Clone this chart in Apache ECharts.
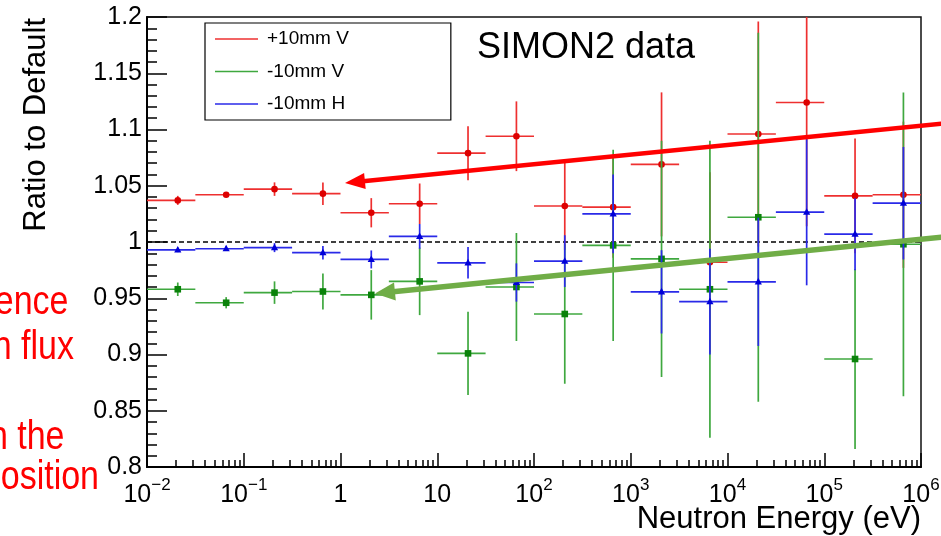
<!DOCTYPE html>
<html><head><meta charset="utf-8">
<script src="https://cdn.jsdelivr.net/npm/echarts@6/dist/echarts.min.js"></script>
<style>html,body{margin:0;padding:0;background:#fff}#c{width:941px;height:536px}</style>
</head><body><div id="c"></div>
<script>
// ---- data ----
const seriesNames = ['+10mm V', '-10mm V', '-10mm H'];
const energy  = [0.0208, 0.0658, 0.208, 0.658, 2.08, 6.58, 20.8, 65.8, 208, 658, 2081, 6581, 20811, 65811, 208114, 658114];
const binLow  = [0.01, 0.0316, 0.1, 0.316, 1, 3.16, 10, 31.6, 100, 316, 1000, 3162, 10000, 31623, 100000, 316228];
const binHigh = [0.0316, 0.1, 0.316, 1, 3.16, 10, 31.6, 100, 316, 1000, 3162, 10000, 31623, 100000, 316228, 1000000];
const redVal   = [1.037, 1.042, 1.047, 1.043, 1.026, 1.034, 1.079, 1.094, 1.032, 1.031, 1.069, 0.982, 1.096, 1.124, 1.041, 1.042];
const redErr   = [0.004, 0.002, 0.006, 0.010, 0.013, 0.018, 0.024, 0.031, 0.039, 0.045, 0.064, 0.080, 0.100, 0.110, 0.051, 0.065];
const greenVal = [0.958, 0.946, 0.955, 0.956, 0.953, 0.965, 0.901, 0.960, 0.936, 0.997, 0.985, 0.958, 1.022, null, 0.896, 0.998];
const greenErr = [0.006, 0.005, 0.010, 0.016, 0.022, 0.030, 0.037, 0.048, 0.062, 0.085, 0.105, 0.132, 0.164, null, 0.080, 0.135];
const blueVal  = [0.993, 0.994, 0.995, 0.9905, 0.9845, 1.005, 0.9815, 0.964, 0.983, 1.025, 0.9557, 0.947, 0.9646, 1.0265, 1.007, 1.0345];
const blueErr  = [0.002, 0.002, 0.004, 0.006, 0.008, 0.011, 0.014, 0.017, 0.023, 0.035, 0.037, 0.047, 0.057, 0.065, 0.032, 0.050];
const xMajorTicks = [0.01, 0.1, 1, 10, 100, 1000, 10000, 100000, 1000000];
const xTickLabels = ['10|\u22122', '10|\u22121', '1', '10', '10|2', '10|3', '10|4', '10|5', '10|6'];
const yRange = [0.8, 1.2];
const refLevel = 1;
const titleText = 'SIMON2 data';
const xTitle = 'Neutron Energy (eV)';
const yTitle = 'Ratio to Default';
const noteLines = ['ence', 'n flux', 'n the', 'osition'];

// ---- styling ----
const FONT = '"Liberation Sans", Arial, Helvetica, sans-serif';
const colors = {
  red:   {line: '#ee3030', mark: '#dd0000'},
  green: {line: '#3fa83f', mark: '#0a820a'},
  blue:  {line: '#2a2ae8', mark: '#0000d8'}
};

const xMinorTicks = [];
for (let i = 0; i < xMajorTicks.length - 1; i++) {
  for (let k = 2; k <= 9; k++) xMinorTicks.push(+(xMajorTicks[i] * k).toPrecision(6));
}

function rows(vals, errs) {
  const out = [];
  for (let i = 0; i < energy.length; i++) {
    if (vals[i] == null) continue;
    out.push([energy[i], vals[i], binLow[i], binHigh[i], errs[i]]);
  }
  return out;
}

function makeRender(col, shape) {
  return function (params, api) {
    const x = api.value(0), y = api.value(1), lo = api.value(2), hi = api.value(3), e = api.value(4);
    const c = api.coord([x, y]);
    const l = api.coord([lo, y]);
    const h = api.coord([hi, y]);
    const t = api.coord([x, y + e]);
    const b = api.coord([x, y - e]);
    const ls = {stroke: col.line, lineWidth: 1.7};
    const children = [
      {type: 'line', shape: {x1: l[0], y1: c[1], x2: h[0], y2: c[1]}, style: ls},
      {type: 'line', shape: {x1: c[0], y1: t[1], x2: c[0], y2: b[1]}, style: ls}
    ];
    if (shape === 'circle') {
      children.push({type: 'circle', shape: {cx: c[0], cy: c[1], r: 3.3}, style: {fill: col.mark}});
    } else if (shape === 'square') {
      children.push({type: 'rect', shape: {x: c[0] - 3.3, y: c[1] - 3.3, width: 6.6, height: 6.6}, style: {fill: col.mark}});
    } else {
      children.push({type: 'polygon', shape: {points: [[c[0], c[1] - 4], [c[0] - 3.6, c[1] + 2.6], [c[0] + 3.6, c[1] + 2.6]]}, style: {fill: col.mark}});
    }
    return {type: 'group', children: children};
  };
}

function arrow(tail, tip, color, w, hl, hw) {
  const dx = tip[0] - tail[0], dy = tip[1] - tail[1], L = Math.hypot(dx, dy);
  const ux = dx / L, uy = dy / L, px = -uy, py = ux;
  const bx = tip[0] - ux * hl, by = tip[1] - uy * hl;
  return [
    {type: 'line', z: 100, shape: {x1: tail[0], y1: tail[1], x2: bx + ux * 2, y2: by + uy * 2}, style: {stroke: color, lineWidth: w}},
    {type: 'polygon', z: 100, shape: {points: [tip, [bx + px * hw, by + py * hw], [bx - px * hw, by - py * hw]]}, style: {fill: color}}
  ];
}

const chart = echarts.init(document.getElementById('c'), null, {renderer: 'canvas'});

const xLabelFormatter = function (v) {
  const i = xMajorTicks.findIndex(t => Math.abs(Math.log10(t) - Math.log10(v)) < 1e-6);
  if (i < 0) return '';
  const parts = xTickLabels[i].split('|');
  return parts[1] ? '{b|' + parts[0] + '}{s|' + parts[1] + '}' : '{b|' + parts[0] + '}';
};

const noteX = [68.5, 74, 64.5, 99];
const noteBase = [317, 362, 452, 492];
const noteGraphics = noteLines.map((t, i) => ({
  type: 'text', z: 100, x: noteX[i], y: noteBase[i], scaleY: 1.22,
  style: {text: t, x: 0, y: -11.8, align: 'right', verticalAlign: 'middle', fill: '#ff0000', fontSize: 34, fontFamily: FONT}
}));

const option = {
  animation: false,
  backgroundColor: '#ffffff',
  textStyle: {fontFamily: FONT},
  grid: {left: 147, right: 20, top: 17, bottom: 69, containLabel: false, outerBoundsMode: 'none', show: true, borderColor: '#111', borderWidth: 1.5, backgroundColor: 'transparent'},
  legend: {
    orient: 'vertical', left: 205, top: 23,
    data: [
      {name: seriesNames[0], icon: 'rect', itemStyle: {color: colors.red.line}},
      {name: seriesNames[1], icon: 'rect', itemStyle: {color: colors.green.line}},
      {name: seriesNames[2], icon: 'rect', itemStyle: {color: colors.blue.line}}
    ],
    itemWidth: 43, itemHeight: 1.6, itemGap: 13.5,
    padding: [6.5, 102, 6.5, 10],
    borderColor: '#000', borderWidth: 1.2, backgroundColor: '#fff',
    selectedMode: false,
    textStyle: {fontSize: 19, lineHeight: 19, color: '#000', fontFamily: FONT, padding: [0, 0, 0, 4]}
  },
  xAxis: [
    {
      type: 'log', logBase: 10, min: xMajorTicks[0], max: xMajorTicks[xMajorTicks.length - 1], splitNumber: 8,
      position: 'bottom',
      axisLine: {show: true, onZero: false, lineStyle: {color: '#000', width: 2}},
      axisTick: {show: true, inside: true, length: 14, customValues: xMajorTicks, lineStyle: {color: '#000', width: 1.5}},
      axisLabel: {
        show: true, customValues: xMajorTicks, margin: 8, formatter: xLabelFormatter, color: '#000',
        rich: {
          b: {fontSize: 25, lineHeight: 33, verticalAlign: 'bottom', fontFamily: FONT, color: '#000'},
          s: {fontSize: 17, verticalAlign: 'bottom', padding: [0, 0, 14, 0], fontFamily: FONT, color: '#000'}
        }
      },
      splitLine: {show: false}
    },
    {
      type: 'log', logBase: 10, min: xMajorTicks[0], max: xMajorTicks[xMajorTicks.length - 1],
      position: 'bottom',
      axisLine: {show: false},
      axisTick: {show: true, inside: true, length: 7, customValues: xMinorTicks, lineStyle: {color: '#000', width: 1.5}},
      axisLabel: {show: false},
      splitLine: {show: false}
    }
  ],
  yAxis: {
    type: 'value', min: yRange[0], max: yRange[1], interval: 0.05,
    axisLine: {show: true, lineStyle: {color: '#000', width: 2}},
    axisTick: {show: true, inside: true, length: 20, lineStyle: {color: '#000', width: 1.5}},
    minorTick: {show: true, splitNumber: 5, length: 10, lineStyle: {color: '#000', width: 1.5}},
    axisLabel: {fontSize: 25, color: '#000', margin: 5, fontFamily: FONT, formatter: v => String(Math.round(v * 100) / 100)},
    splitLine: {show: false}
  },
  series: [
    {
      type: 'line', silent: true, symbol: 'none', z: 1,
      data: [[xMajorTicks[0], refLevel], [xMajorTicks[xMajorTicks.length - 1], refLevel]],
      lineStyle: {color: '#000', width: 1.3, type: [5, 3]}
    },
    {name: seriesNames[0], type: 'custom', clip: true, renderItem: makeRender(colors.red, 'circle'), data: rows(redVal, redErr), encode: {x: 0, y: 1}, z: 3},
    {name: seriesNames[1], type: 'custom', clip: true, renderItem: makeRender(colors.green, 'square'), data: rows(greenVal, greenErr), encode: {x: 0, y: 1}, z: 4},
    {name: seriesNames[2], type: 'custom', clip: true, renderItem: makeRender(colors.blue, 'triangle'), data: rows(blueVal, blueErr), encode: {x: 0, y: 1}, z: 5}
  ],
  graphic: [
    {type: 'text', z: 100, x: 477, y: 48.5, style: {text: titleText, align: 'left', verticalAlign: 'middle', fill: '#000', fontSize: 36, fontFamily: FONT}},
    {type: 'text', z: 100, x: 921, y: 519.5, style: {text: xTitle, align: 'right', verticalAlign: 'middle', fill: '#000', fontSize: 31, fontFamily: FONT}},
    {type: 'text', z: 100, x: 36, y: 18, rotation: Math.PI / 2, style: {text: yTitle, align: 'right', verticalAlign: 'middle', fill: '#000', fontSize: 31, fontFamily: FONT}},
    ...arrow([946, 123.2], [345, 183], '#ff0000', 4.5, 20, 8),
    ...arrow([946, 236.8], [375, 293.5], '#70ad47', 5.5, 20, 9),
    ...noteGraphics
  ]
};
chart.setOption(option);
</script>
</body></html>
